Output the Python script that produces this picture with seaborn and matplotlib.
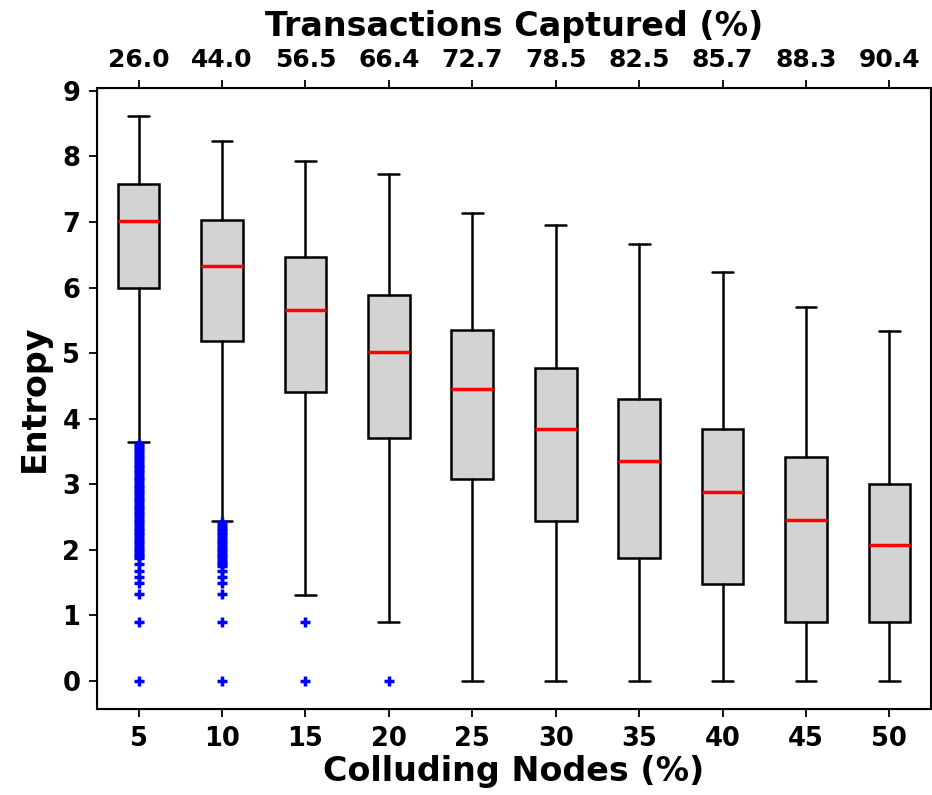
import matplotlib
matplotlib.use("Agg")
import matplotlib.pyplot as plt
import seaborn as sns

# colluding nodes (%) and share of transactions captured (%)
colluding = [5, 10, 15, 20, 25, 30, 35, 40, 45, 50]
captured = ["26.0", "44.0", "56.5", "66.4", "72.7", "78.5", "82.5", "85.7", "88.3", "90.4"]

# box statistics (entropy)
whisker_low = [3.64, 2.44, 1.31, 0.90, 0.00, 0.00, 0.00, 0.00, 0.00, 0.00]
q1 = [6.00, 5.19, 4.40, 3.70, 3.08, 2.44, 1.87, 1.48, 0.90, 0.90]
median = [7.02, 6.33, 5.66, 5.01, 4.46, 3.85, 3.35, 2.88, 2.45, 2.07]
q3 = [7.58, 7.03, 6.47, 5.88, 5.36, 4.78, 4.30, 3.84, 3.42, 3.00]
whisker_high = [8.62, 8.24, 7.93, 7.73, 7.14, 6.95, 6.67, 6.23, 5.70, 5.34]

fliers_5 = [3.62, 3.58, 3.54, 3.50, 3.46, 3.42, 3.38, 3.34, 3.30, 3.26,
            3.22, 3.18, 3.14, 3.10, 3.06, 3.02, 2.98, 2.94, 2.90, 2.86,
            2.82, 2.78, 2.74, 2.70, 2.66, 2.62, 2.58, 2.54, 2.50, 2.46,
            2.42, 2.38, 2.34, 2.30, 2.26, 2.22, 2.18, 2.14, 2.10, 2.06,
            2.02, 1.98, 1.94, 1.90, 1.87,
            1.78, 1.68, 1.59, 1.49, 1.32, 0.90, 0.00]
fliers_10 = [2.42, 2.38, 2.34, 2.30, 2.26, 2.22, 2.18, 2.14, 2.10, 2.06,
             2.02, 1.98, 1.94, 1.90, 1.86, 1.82, 1.78, 1.75,
             1.68, 1.59, 1.49, 1.32, 0.90, 0.00]
fliers_15 = [0.90, 0.00]
fliers_20 = [0.00]
fliers = [fliers_5, fliers_10, fliers_15, fliers_20, [], [], [], [], [], []]

sns.set_style("ticks", {"text.color": "black", "axes.labelcolor": "black",
                        "xtick.color": "black", "ytick.color": "black",
                        "axes.edgecolor": "black"})
plt.rcParams["font.weight"] = "bold"
plt.rcParams["axes.labelweight"] = "bold"

fig, ax = plt.subplots(figsize=(9.32, 7.95), dpi=100)
fig.subplots_adjust(left=0.104, right=0.999, top=0.889, bottom=0.108)

stats = []
for i in range(len(colluding)):
    stats.append(dict(med=median[i], q1=q1[i], q3=q3[i],
                      whislo=whisker_low[i], whishi=whisker_high[i],
                      fliers=fliers[i]))

ax.bxp(stats, positions=range(1, len(colluding) + 1), widths=0.5,
       patch_artist=True,
       boxprops=dict(facecolor="lightgray", edgecolor="black", linewidth=1.8),
       medianprops=dict(color="red", linewidth=2.5),
       whiskerprops=dict(color="black", linewidth=1.8),
       capprops=dict(color="black", linewidth=1.8),
       flierprops=dict(marker="+", markeredgecolor="blue", markersize=7.5,
                       markeredgewidth=2.5, linestyle="none"))

ax.set_xticks(range(1, len(colluding) + 1))
ax.set_xticklabels([str(c) for c in colluding])
ax.set_xlim(0.5, len(colluding) + 0.5)
ax.set_ylim(-0.43, 9.04)
ax.set_yticks(range(0, 10))
ax.tick_params(labelsize=18.5, width=1.3, length=6, pad=6)
ax.set_xlabel("Colluding Nodes (%)", fontsize=24, fontweight="bold", labelpad=2)
ax.set_ylabel("Entropy", fontsize=24, fontweight="bold", labelpad=8)
for s in ax.spines.values():
    s.set_linewidth(1.5)

top = ax.twiny()
top.set_xlim(ax.get_xlim())
top.set_xticks(range(1, len(colluding) + 1))
top.set_xticklabels(captured)
top.tick_params(labelsize=18, width=1.3, length=6, pad=6)
top.set_xlabel("Transactions Captured (%)", fontsize=24, fontweight="bold", labelpad=8)

fig.savefig("out.png", dpi=100)
